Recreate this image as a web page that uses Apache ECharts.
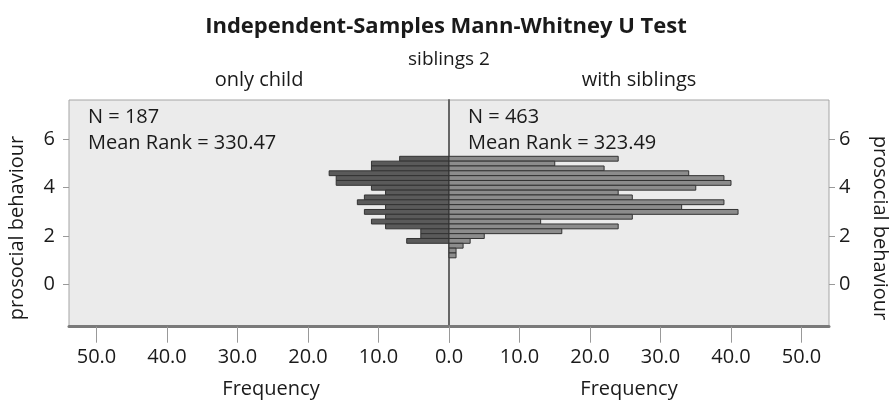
<!DOCTYPE html>
<html>
<head>
<meta charset="utf-8">
<script src="https://cdn.jsdelivr.net/npm/echarts@6/dist/echarts.min.js"></script>
<style>
    html, body { margin: 0; padding: 0; background: #fff; }
    #chart { width: 892px; height: 405px; }
</style>
</head>
<body>
<div id="chart"></div>
<script>
// bin centres of prosocial behaviour (bin width 0.2), top to bottom
const binCenters = [5.2, 5.0, 4.8, 4.6, 4.4, 4.2, 4.0, 3.8, 3.6, 3.4, 3.2, 3.0, 2.8, 2.6, 2.4, 2.2, 2.0, 1.8, 1.6, 1.4, 1.2];
// frequencies, same order as binCenters
const onlyChild = [7, 11, 11, 17, 16, 16, 11, 9, 12, 13, 9, 12, 9, 11, 9, 4, 4, 6];
const withSiblings = [24, 15, 22, 34, 39, 40, 35, 24, 26, 39, 33, 41, 26, 13, 24, 16, 5, 3, 2, 1, 1];
const freqTicks = [0, 10, 20, 30, 40, 50];
const yTicks = [0, 2, 4, 6];
const binWidth = 0.2;

const FONT = '"Open Sans", "Noto Sans", sans-serif';
const yMin = -1.75, yMax = 7.63;
const xMax = 53.9;

// 基于准备好的dom，初始化echarts实例
let chart = echarts.init(document.getElementById('chart'));

function barItem(fill) {
    return function (params, api) {
        let c = api.value(0), v = api.value(1);
        let p1 = api.coord([0, c + binWidth / 2]);
        let p2 = api.coord([v, c - binWidth / 2]);
        return {
            type: 'rect',
            shape: {
                x: Math.min(p1[0], p2[0]),
                y: Math.min(p1[1], p2[1]),
                width: Math.abs(p2[0] - p1[0]),
                height: Math.abs(p2[1] - p1[1])
            },
            style: { fill: fill, stroke: '#333', lineWidth: 1 }
        };
    };
}

function xAxisOf(idx, inverse, labelValues) {
    return {
        gridIndex: idx, type: 'value', min: 0, max: xMax, inverse: inverse,
        axisLine: { show: true, onZero: false, lineStyle: { color: '#7a7a7a', width: 3 } },
        axisTick: { show: true, length: 16, customValues: freqTicks, lineStyle: { color: '#999' } },
        axisLabel: { customValues: labelValues, formatter: v => v.toFixed(1), color: '#1a1a1a', fontSize: 20, fontFamily: FONT, margin: 21 },
        splitLine: { show: false }
    };
}

function yAxisOf(idx, pos, margin) {
    return {
        gridIndex: idx, type: 'value', min: yMin, max: yMax, position: pos,
        axisLine: { show: false, onZero: false },
        axisTick: { show: true, length: 6, customValues: yTicks, lineStyle: { color: '#999' } },
        axisLabel: { customValues: yTicks, color: '#1a1a1a', fontSize: 20, fontFamily: FONT, margin: margin },
        splitLine: { show: false }
    };
}

function label(text, x, y, size, opts) {
    opts = opts || {};
    return {
        type: 'text', x: x, y: y, z: 100, rotation: opts.rotation || 0,
        style: {
            text: text, fill: '#1a1a1a', textAlign: opts.align || 'center', textVerticalAlign: 'middle',
            font: (opts.bold ? 'bold ' : '') + size + 'px ' + FONT
        }
    };
}

chart.setOption({
    animation: false,
    grid: [
        { left: 69, top: 100, width: 380, height: 226.7, show: true, backgroundColor: '#ebebeb', borderColor: '#a5a5a5', borderWidth: 1 },
        { left: 449, top: 100, width: 380, height: 226.7, show: true, backgroundColor: '#ebebeb', borderColor: '#a5a5a5', borderWidth: 1 }
    ],
    xAxis: [xAxisOf(0, true, [10, 20, 30, 40, 50]), xAxisOf(1, false, freqTicks)],
    yAxis: [
        yAxisOf(0, 'left', 14),
        yAxisOf(1, 'right', 10),
        // centre line
        {
            gridIndex: 1, type: 'value', min: yMin, max: yMax, position: 'left',
            axisLine: { show: true, onZero: false, lineStyle: { color: '#666', width: 2 } },
            axisTick: { show: false }, axisLabel: { show: false }, splitLine: { show: false }
        }
    ],
    series: [
        {
            name: 'only child', type: 'custom', xAxisIndex: 0, yAxisIndex: 0,
            renderItem: barItem('#5a5a5a'),
            encode: { x: 1, y: 0 },
            data: onlyChild.map((v, i) => [binCenters[i], v])
        },
        {
            name: 'with siblings', type: 'custom', xAxisIndex: 1, yAxisIndex: 1,
            renderItem: barItem('#8c8c8c'),
            encode: { x: 1, y: 0 },
            data: withSiblings.map((v, i) => [binCenters[i], v])
        }
    ],
    graphic: [
        label('Independent-Samples Mann-Whitney U Test', 446, 27, 22, { bold: true }),
        label('siblings 2', 449, 60, 19),
        label('only child', 259, 80, 20),
        label('with siblings', 639, 80, 20),
        label('N = 187', 88, 117, 20, { align: 'left' }),
        label('Mean Rank = 330.47', 88, 143, 20, { align: 'left' }),
        label('N = 463', 468, 117, 20, { align: 'left' }),
        label('Mean Rank = 323.49', 468, 143, 20, { align: 'left' }),
        label('Frequency', 271, 389, 20),
        label('Frequency', 629, 389, 20),
        label('prosocial behaviour', 17, 228, 20, { rotation: Math.PI / 2 }),
        label('prosocial behaviour', 880, 228, 20, { rotation: -Math.PI / 2 })
    ]
});
</script>
</body>
</html>
